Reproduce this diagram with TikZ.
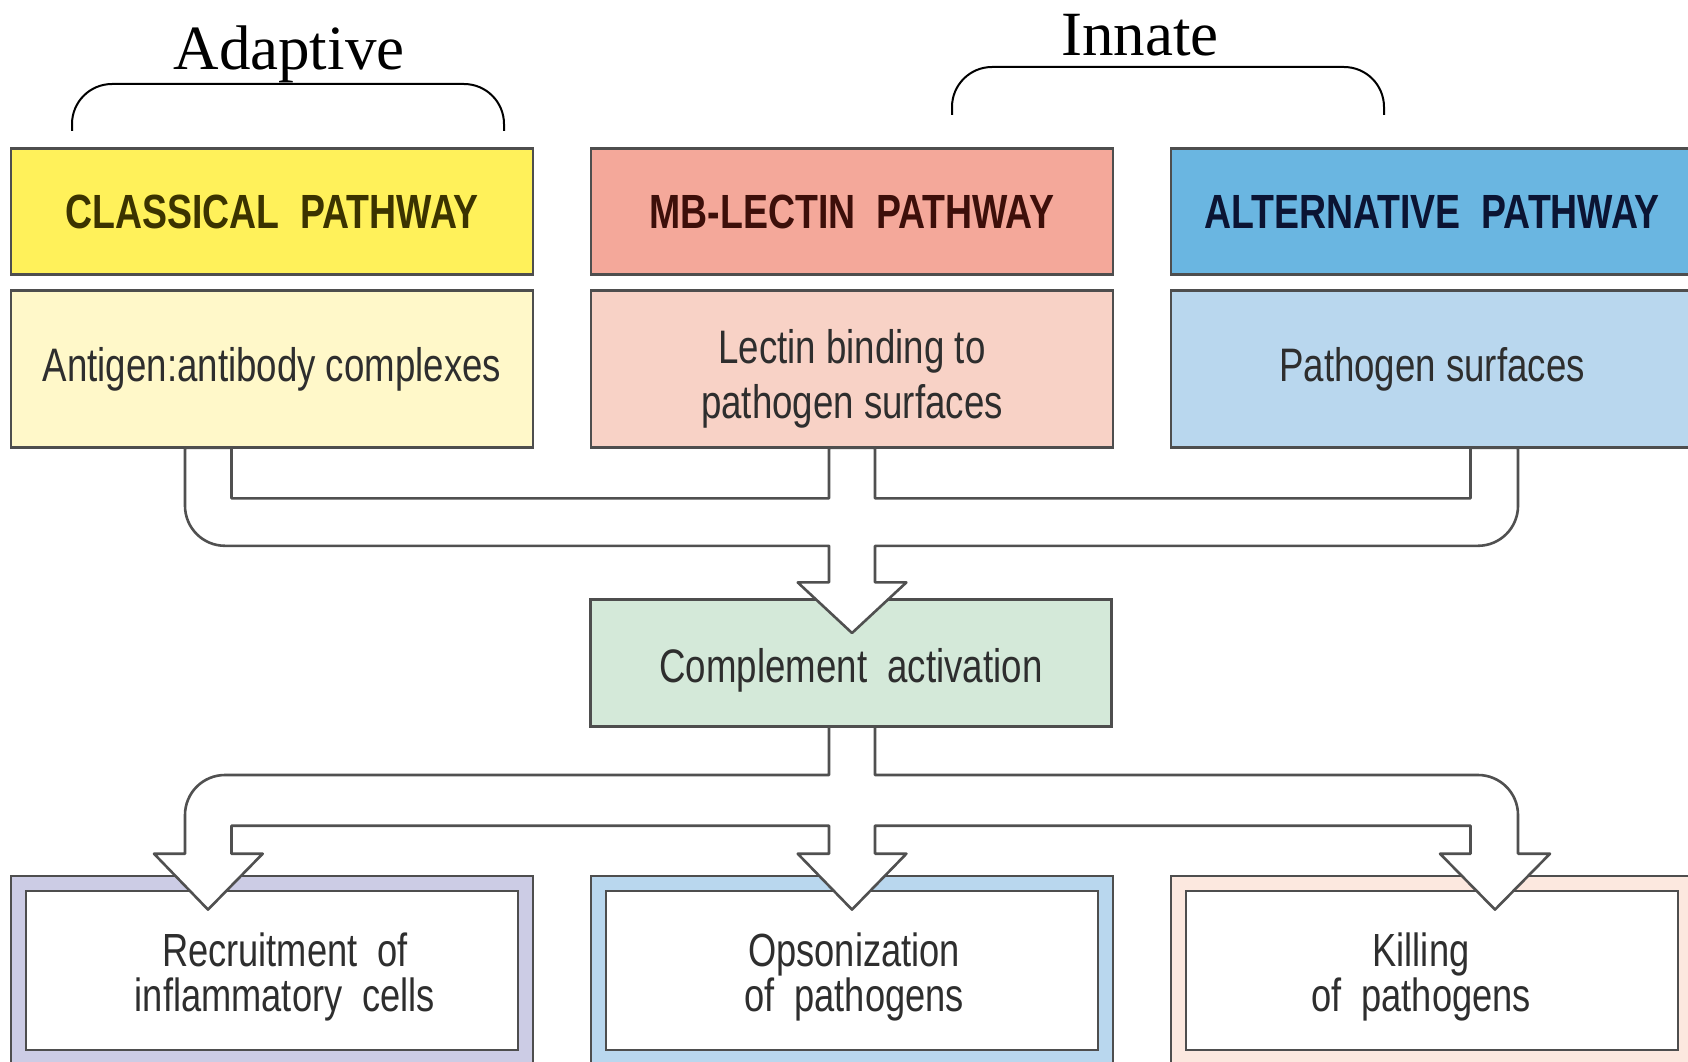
\documentclass[tikz,border=0pt]{standalone}
\usepackage{fontspec}
\setmainfont{Liberation Serif}
\newfontfamily\narrowsans[FakeStretch=0.78]{Liberation Sans}
\definecolor{boxline}{HTML}{4E4E4E}
\definecolor{pipeline}{HTML}{505050}
\definecolor{txt}{HTML}{2E2E2E}
\definecolor{cpHead}{HTML}{FFF15A}
\definecolor{cpBody}{HTML}{FFF8C9}
\definecolor{cpText}{HTML}{3B3300}
\definecolor{mbHead}{HTML}{F4A89A}
\definecolor{mbBody}{HTML}{F8D2C6}
\definecolor{mbText}{HTML}{3D0F0A}
\definecolor{alHead}{HTML}{6AB6E1}
\definecolor{alBody}{HTML}{B9D7EE}
\definecolor{alText}{HTML}{0B1433}
\definecolor{caFill}{HTML}{D4E9D9}
\definecolor{frLeft}{HTML}{CCCCE5}
\definecolor{frMid}{HTML}{B9D7EE}
\definecolor{frRight}{HTML}{FCE8DF}
\begin{document}
\begin{tikzpicture}[x=1pt,y=-1pt,
  box/.style={draw=boxline, line width=2.2pt, rectangle, minimum width=522pt, inner sep=0pt, align=center},
  head/.style={box, minimum height=126pt, font=\narrowsans\bfseries\fontsize{48}{55}\selectfont},
  body/.style={box, minimum height=157pt, text=txt, font=\narrowsans\fontsize{47}{55}\selectfont},
  bodytext/.style={text=txt, align=center, inner sep=0pt, font=\narrowsans\fontsize{47}{55}\selectfont},
  frame/.style={box, minimum height=194pt},
  inner/.style={box, fill=white, minimum width=492pt, minimum height=159pt},
  outtext/.style={text=txt, align=center, inner sep=0pt, font=\narrowsans\fontsize{46.5}{45}\selectfont},
  pipe/.style={draw=pipeline, line width=2.6pt, fill=white, line join=round},
  bracket/.style={draw=black, line width=2pt, rounded corners=40pt},
  group/.style={font=\fontsize{63}{63}\selectfont, anchor=base, inner sep=0pt}
]
\useasboundingbox (0,0) rectangle (1688,1062);
\fill[white] (0,0) rectangle (1688,1062);

% group labels
\node[group] (adaptive) at (289,70) {Adaptive};
\node[group] (innate) at (1140,56) {Innate};
\draw[bracket] (72,131) -- (72,84) -- (504,84) -- (504,131);
\draw[bracket] (952,115) -- (952,67) -- (1384,67) -- (1384,115);

% pathway headers
\node[head, fill=cpHead, text=cpText] (cph) at (272,211.5) {CLASSICAL\ \ PATHWAY};
\node[head, fill=mbHead, text=mbText] (mbh) at (852,211.5) {MB-LECTIN\ \ PATHWAY};
\node[head, fill=alHead, text=alText] (alh) at (1432,211.5) {ALTERNATIVE\ \ PATHWAY};

% triggers
\node[body, fill=cpBody] (cpb) at (272,369) {Antigen:antibody complexes};
\node[body, fill=mbBody] (mbb) at (852,369) {};
\node[bodytext] (mbt) at (852,379) {Lectin binding to\\pathogen surfaces};
\node[body, fill=alBody] (alb) at (1432,369) {Pathogen surfaces};

% complement activation
\node[body, fill=caFill, minimum width=521pt, minimum height=127pt] (ca) at (851,663) {};
\node[bodytext] (cat) at (851,670) {Complement\ \ activation};

% outcomes
\node[frame, fill=frLeft] (lf) at (272,973) {};
\node[frame, fill=frMid] (mf) at (852,973) {};
\node[frame, fill=frRight] (rf) at (1432,973) {};
\node[inner] (li) at (272,970.5) {};
\node[inner] (mi) at (852,970.5) {};
\node[inner] (ri) at (1432,970.5) {};
\node[outtext] (lt) at (285,977) {Recruitment\ \ of\\inflammatory\ \ cells};
\node[outtext] (mt) at (854,977) {Opsonization\\of\ \ pathogens};
\node[outtext] (rt) at (1421,977) {Killing\\of\ \ pathogens};

% converging pipe arrow
\draw[pipe] (185,447.8) -- (185,505.8) .. controls (185,527.9) and (202.9,545.8) .. (225,545.8)
  -- (829,545.8) -- (829,582.4) -- (797.7,582.4) -- (852,633) -- (906.4,582.4) -- (875,582.4)
  -- (875,545.8) -- (1478,545.8) .. controls (1500.1,545.8) and (1518,527.9) .. (1518,505.8)
  -- (1518,447.8) -- (1470.5,447.8) -- (1470.5,498.4) -- (875,498.4) -- (875,447.8)
  -- (829,447.8) -- (829,498.4) -- (231.5,498.4) -- (231.5,447.8) -- cycle;

% diverging pipe arrow
\draw[pipe] (829,726.6) -- (829,775) -- (225,775) .. controls (202.9,775) and (185,792.9) .. (185,815)
  -- (185,853.7) -- (154,853.7) -- (208,909.6) -- (262.7,853.7) -- (231.5,853.7)
  -- (231.5,825.7) -- (829,825.7) -- (829,853.7) -- (797.7,853.7) -- (852,909.6) -- (906.4,853.7)
  -- (875,853.7) -- (875,825.7) -- (1470.5,825.7) -- (1470.5,853.7) -- (1440,853.7)
  -- (1495,909.6) -- (1550,853.7) -- (1518,853.7) -- (1518,815)
  .. controls (1518,792.9) and (1500.1,775) .. (1478,775) -- (875,775) -- (875,726.6) -- cycle;
\end{tikzpicture}
\end{document}
